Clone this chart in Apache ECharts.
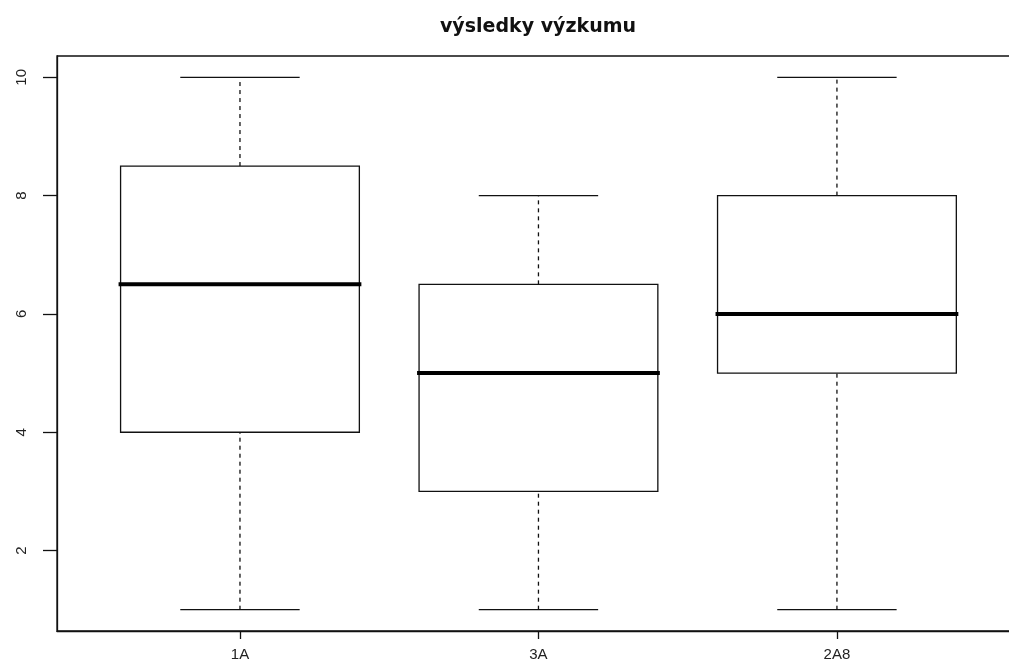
<!DOCTYPE html>
<html>
<head>
<meta charset="utf-8">
<script src="https://cdn.jsdelivr.net/npm/echarts@6/dist/echarts.min.js"></script>
<style>
html,body{margin:0;padding:0;background:#fff;}
#chart{width:1009px;height:659px;}
</style>
</head>
<body>
<div id="chart"></div>
<script>
const categories = ['1A', '3A', '2A8'];
const mins = [1, 1, 1];
const q1s = [4, 3, 5];
const medians = [6.5, 5, 6];
const q3s = [8.5, 6.5, 8];
const maxs = [10, 8, 10];
const yTicks = [2, 4, 6, 8, 10];
const xTicks = [1, 2, 3];
const titleText = 'výsledky výzkumu';

const boxData = categories.map((c, i) => [i + 1, mins[i], q1s[i], medians[i], q3s[i], maxs[i]]);

const chart = echarts.init(document.getElementById('chart'));
const lineColor = '#111';
chart.setOption({
  animation: false,
  backgroundColor: '#fff',
  title: {
    text: titleText,
    left: 533,
    textAlign: 'center',
    top: 13,
    textStyle: { fontFamily: 'DejaVu Sans', fontWeight: 'bold', fontSize: 19, color: '#111' }
  },
  grid: {
    left: 57, top: 56, width: 965, height: 575,
    outerBoundsMode: 'none',
    containLabel: false,
    show: true, borderColor: lineColor, borderWidth: 1.3, backgroundColor: 'transparent'
  },
  xAxis: {
    type: 'value', min: 0.387, max: 3.62,
    splitLine: { show: false },
    axisLine: { show: true, lineStyle: { color: lineColor, width: 1.3 } },
    axisTick: { show: true, customValues: xTicks, length: 8, lineStyle: { color: lineColor, width: 1.3 } },
    axisLabel: {
      customValues: xTicks, margin: 16,
      formatter: v => categories[Math.round(v) - 1] || '',
      fontFamily: 'Liberation Sans', fontSize: 15, color: '#222'
    }
  },
  yAxis: {
    type: 'value', min: 0.64, max: 10.36,
    splitLine: { show: false },
    axisLine: { show: true, lineStyle: { color: lineColor, width: 1.3 } },
    axisTick: { show: true, customValues: yTicks, length: 14, lineStyle: { color: lineColor, width: 1.3 } },
    axisLabel: {
      customValues: yTicks, rotate: 90, margin: 28,
      fontFamily: 'Liberation Sans', fontSize: 15, color: '#222'
    }
  },
  series: [{
    type: 'custom',
    clip: false,
    data: boxData,
    encode: { x: 0, y: [1, 2, 3, 4, 5] },
    renderItem: function (params, api) {
      const x = api.value(0), lo = api.value(1), q1 = api.value(2), md = api.value(3), q3 = api.value(4), hi = api.value(5);
      const hw = 0.4, cw = 0.2;
      const c = (a, b) => api.coord([a, b]);
      const tl = c(x - hw, q3), br = c(x + hw, q1);
      const solid = { stroke: lineColor, lineWidth: 1.3, fill: null };
      const dashed = { stroke: lineColor, lineWidth: 1.3, lineDash: [4, 4] };
      function line(p1, p2, style) {
        return { type: 'line', shape: { x1: p1[0], y1: p1[1], x2: p2[0], y2: p2[1] }, style: style };
      }
      return {
        type: 'group',
        children: [
          line(c(x, q3), c(x, hi), dashed),
          line(c(x, lo), c(x, q1), dashed),
          line(c(x - cw, hi), c(x + cw, hi), solid),
          line(c(x - cw, lo), c(x + cw, lo), solid),
          { type: 'rect', shape: { x: tl[0], y: tl[1], width: br[0] - tl[0], height: br[1] - tl[1] }, style: { stroke: lineColor, lineWidth: 1.3, fill: '#fff' } },
          line(c(x - hw, md), c(x + hw, md), { stroke: '#000', lineWidth: 4, lineCap: 'square' })
        ]
      };
    }
  }]
});
</script>
</body>
</html>
